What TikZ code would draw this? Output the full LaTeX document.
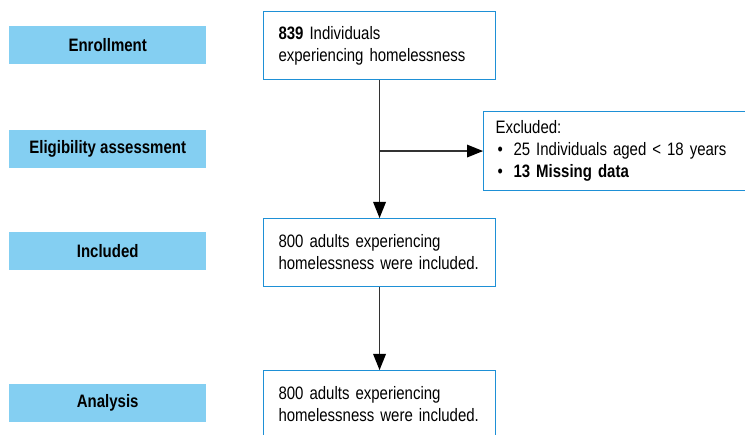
\documentclass[tikz,border=0pt]{standalone}
\usepackage{fontspec}
\setmainfont{Liberation Sans}[FakeStretch=0.833]
\usetikzlibrary{arrows.meta}
\definecolor{stagefill}{RGB}{132,207,242}
\definecolor{boxline}{RGB}{30,144,214}
\definecolor{flowline}{RGB}{50,50,50}
\tikzset{
  stage/.style={fill=stagefill, draw=none, minimum width=197pt, minimum height=38pt,
    inner sep=0pt, anchor=north west, font=\fontsize{18}{22}\selectfont\bfseries},
  flowbox/.style={draw=boxline, line width=1.1pt, fill=white, anchor=north west,
    minimum height=68pt, text width=202pt, inner xsep=15pt, inner ysep=0pt,
    align=left, font=\fontsize{18}{22}\selectfont},
  flowarrow/.style={draw=flowline, line width=1.1pt,
    -{Triangle[length=16pt,width=13pt,fill=black,line width=0pt]}},
}
\newcommand{\bitem}{\hspace*{2pt}\makebox[16pt][l]{•}}
\begin{document}
\begin{tikzpicture}[x=1pt,y=-1pt]
  \clip (0,0) rectangle (745,435);
  \fill[white] (0,0) rectangle (745,435);

  % stage labels on the left
  \node[stage] (enrol) at (9,26) {Enrollment};
  \node[stage] (elig)  at (9,130) {Eligibility assessment};
  \node[stage] (incl)  at (9,232) {Included};
  \node[stage] (anal)  at (9,384) {Analysis};

  % flow boxes
  \node[flowbox] (start) at (263,11) {\textbf{839} Individuals\\experiencing homelessness};
  \node[flowbox, text width=270pt, inner xsep=12pt, minimum height=79pt] (excl) at (483,111)
    {Excluded:\\\bitem 25 Individuals aged < 18 years\\\bitem\textbf{13 Missing data}};
  \node[flowbox] (kept) at (263,218) {800 adults experiencing\\homelessness were included.};
  \node[flowbox] (final) at (263,370) {800 adults experiencing\\homelessness were included.};

  % connectors
  \coordinate (split) at (start.south |- excl.west);
  \draw[flowarrow] (start.south) -- (kept.north);
  \draw[flowarrow] (split) -- (excl.west);
  \draw[flowarrow] (kept.south) -- (final.north);
\end{tikzpicture}
\end{document}
